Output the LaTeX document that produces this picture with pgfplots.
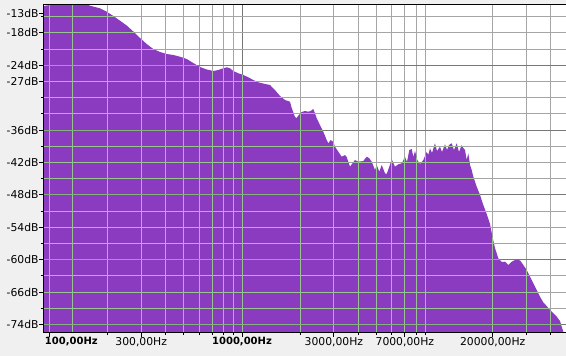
\documentclass[border=0pt]{standalone}
\usepackage{fontspec}
\setmainfont{DejaVu Sans}
\usepackage{pgfplots}
\usepackage{pgfplotstable}
\pgfplotsset{compat=1.18}
\definecolor{bg}{RGB}{240,240,240}
\definecolor{spec}{RGB}{138,59,191}
\definecolor{gridgray}{RGB}{165,165,165}
\definecolor{griddark}{RGB}{120,120,120}
\definecolor{gridgreen}{RGB}{152,196,142}
\definecolor{gridgreendark}{RGB}{132,178,122}

% x = log10(frequency in Hz), y = level in dB
\pgfplotstableread{
lx dB
1.9500 -90
1.9500 -13.02
1.9689 -13.02
2.0036 -12.833
2.2008 -12.833
2.2268 -13.111
2.2631 -13.444
2.2979 -14.074
2.3321 -14.870
2.3669 -15.740
2.4016 -16.629
2.4359 -17.740
2.4707 -18.944
2.5054 -20.055
2.5397 -20.981
2.5745 -21.537
2.6092 -21.907
2.6435 -22.092
2.6782 -22.407
2.7130 -22.833
2.7473 -23.574
2.7820 -24.314
2.8168 -24.777
2.8511 -25.055
2.8770 -24.870
2.9029 -24.555
2.9206 -24.370
2.9377 -24.555
2.9548 -25.055
2.9808 -25.481
3.0067 -25.796
3.0327 -26.222
3.0586 -26.722
3.0846 -27.148
3.1194 -27.463
3.1453 -27.648
3.1712 -28.574
3.1972 -29.685
3.2231 -30.426
3.2491 -30.740
3.2579 -31.907
3.2750 -33.574
3.2839 -33.759
3.2921 -33.333
3.3098 -32.648
3.3269 -32.463
3.3440 -32.592
3.3565 -32.463
3.3700 -32.092
3.3788 -32.889
3.3876 -33.814
3.4047 -35.055
3.4219 -36.296
3.4395 -37.833
3.4478 -38.444
3.4603 -37.833
3.4738 -38.203
3.4826 -39.074
3.4997 -40.000
3.5174 -40.926
3.5345 -40.611
3.5433 -40.981
3.5604 -42.777
3.5693 -42.333
3.5864 -41.537
3.6035 -41.851
3.6295 -41.722
3.6471 -40.926
3.6606 -41.222
3.6731 -41.851
3.6902 -43.388
3.6990 -42.463
3.7125 -43.703
3.7250 -42.463
3.7421 -44.000
3.7509 -44.129
3.7644 -42.777
3.7769 -41.407
3.7940 -42.777
3.8111 -42.333
3.8287 -42.148
3.8459 -40.981
3.8562 -41.907
3.8682 -39.685
3.8806 -39.500
3.8889 -40.981
3.8977 -39.870
3.9097 -41.537
3.9237 -42.277
3.9408 -41.537
3.9585 -40.055
3.9667 -40.611
3.9756 -39.370
3.9859 -40.240
4.0015 -38.444
4.0118 -39.870
4.0274 -39.074
4.0378 -40.055
4.0534 -38.629
4.0638 -39.685
4.0741 -38.759
4.0882 -38.444
4.1001 -39.685
4.1141 -38.444
4.1261 -40.055
4.1401 -38.759
4.1484 -39.314
4.1572 -39.685
4.1660 -41.537
4.1743 -40.296
4.1832 -42.462
4.1920 -43.388
4.2003 -44.629
4.2179 -46.481
4.2351 -48.018
4.2522 -49.870
4.2699 -51.537
4.2870 -53.388
4.3010 -55.981
4.3129 -57.833
4.3300 -59.740
4.3477 -60.426
4.3648 -60.370
4.3819 -60.981
4.3995 -60.370
4.4167 -60.055
4.4426 -60.111
4.4598 -60.981
4.4774 -61.907
4.4945 -63.148
4.5116 -64.370
4.5293 -65.611
4.5464 -66.851
4.5636 -67.925
4.5812 -68.573
4.5983 -69.314
4.6155 -69.925
4.6331 -70.555
4.6502 -71.351
4.6590 -72.407
4.6673 -73.333
4.6761 -74.129
4.6813 -75.000
4.7000 -90
}\spectrum

\newcommand\greengrid{%
  \pgfsetlinewidth{1pt}%
  \pgfsetstrokecolor{gridgreen}%
  \foreach \lx in {2,2.1194,2.3010,2.4771,2.6021,2.6990,2.7782,2.8451,2.9031,2.9542,3,3.3010,3.4771,3.6021,3.6990,3.7782,3.8451,3.9031,3.9542,4.3010,4.4771,4.6021}{%
    \pgfpathmoveto{\pgfplotspointaxisxy{\lx}{-80}}%
    \pgfpathlineto{\pgfplotspointaxisxy{\lx}{-10}}%
  }%
  \foreach \yy in {-15,-18,-21,-27,-30,-33,-39,-42,-45,-51,-54,-57,-63,-66,-69}{%
    \pgfpathmoveto{\pgfplotspointaxisxy{1.9}{\yy}}%
    \pgfpathlineto{\pgfplotspointaxisxy{4.8}{\yy}}%
  }%
  \pgfusepath{stroke}%
  \pgfsetstrokecolor{gridgreendark}%
  \foreach \yy in {-24,-36,-48,-60,-72}{%
    \pgfpathmoveto{\pgfplotspointaxisxy{1.9}{\yy}}%
    \pgfpathlineto{\pgfplotspointaxisxy{4.8}{\yy}}%
  }%
  \pgfusepath{stroke}%
}
\newcommand\bl[1]{{\fontsize{10pt}{12pt}\selectfont\bfseries #1}}

\begin{document}
\begin{tikzpicture}
\fill[bg] (-43.3pt,-23.3pt) rectangle (522.7pt,332.7pt);
\begin{axis}[
  at={(0,0)}, anchor=south west,
  scale only axis, width=522.7pt, height=328.2pt,
  xmin=1.9689, xmax=4.6813, ymin=-73.518, ymax=-12.740,
  axis background/.style={fill=white},
  axis line style={draw=none},
  tick align=outside, xtick pos=left, ytick pos=left,
  major tick length=4.5pt, minor tick length=2.5pt,
  tick style={black, line width=1pt},
  xtick={2,2.4771,3,3.4771,3.8451,4.3010},
  xticklabels={{\makebox[0pt][l]{\hspace{-4.3pt}\bl{100,00Hz}}},{300,00Hz},{\bl{1000,00Hz}},{3000,00Hz},{7000,00Hz},{20000,00Hz}},
  minor xtick={2.3010,2.6021,2.6990,2.7782,2.8451,2.9031,2.9542,3.3010,3.6021,3.6990,3.7782,3.9031,3.9542,4.4771,4.6021},
  ytick={-14.407,-18,-24,-27,-36,-42,-48,-54,-60,-66,-72},
  yticklabels={-13dB,-18dB,-24dB,-27dB,-36dB,-42dB,-48dB,-54dB,-60dB,-66dB,-74dB},
  minor ytick={-15,-21,-30,-33,-39,-45,-51,-57,-63,-69},
  tick label style={font=\fontsize{10.8pt}{13pt}\selectfont, inner sep=0pt},
  xticklabel style={anchor=north},
  yticklabel style={anchor=east},
]
\pgfplotsinvokeforeach{2,2.1194,2.3010,2.4771,2.6021,2.6990,2.7782,2.8451,2.9031,2.9542,3.3010,3.4771,3.6021,3.6990,3.7782,3.8451,3.9031,3.9542,4.3010,4.4771,4.6021}{
  \draw[gridgray, line width=1pt] (axis cs:#1,-73.518) -- (axis cs:#1,-12.74);
}
\draw[griddark, line width=1pt] (axis cs:3,-73.518) -- (axis cs:3,-12.74);
\pgfplotsinvokeforeach{-15,-18,-21,-27,-30,-33,-39,-42,-45,-51,-54,-57,-63,-66,-69}{
  \draw[gridgray, line width=1pt] (axis cs:1.9689,#1) -- (axis cs:4.6813,#1);
}
\pgfplotsinvokeforeach{-24,-36,-48,-60,-72}{
  \draw[griddark, line width=1pt] (axis cs:1.9689,#1) -- (axis cs:4.6813,#1);
}
\addplot[fill=spec, draw=none, path picture={\greengrid}] table[x=lx, y=dB] {\spectrum};
\end{axis}
\draw[black, line width=1pt] (0,0) -- (522.7pt,0);
\draw[black, line width=1pt] (0,0) -- (0,328.2pt);
\draw[black, line width=1.4pt] (0,328.2pt) -- (522.7pt,328.2pt);
\pgfresetboundingbox
\path (-43.3pt,-23.3pt) rectangle (522.7pt,332.7pt);
\end{tikzpicture}
\end{document}
